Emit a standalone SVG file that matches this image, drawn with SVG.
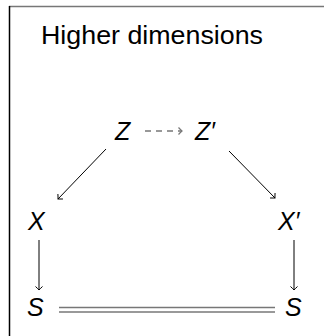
<svg xmlns="http://www.w3.org/2000/svg" width="324" height="336" viewBox="0 0 324 336">
<style>
.t{font-family:"Liberation Sans",Arial,sans-serif;fill:#000}
.m{font-family:"Liberation Sans",Arial,sans-serif;font-style:italic;font-size:25px;fill:#000}
.a{stroke:#000;stroke-width:1;fill:none}
.g{stroke:#777;stroke-width:1.5;fill:none}
</style>
<defs>
<marker id="hk" viewBox="-5 -5 6 10" markerWidth="6" markerHeight="10" refX="0" refY="0" orient="auto" markerUnits="userSpaceOnUse">
<path d="M-3.5,-3.5 Q-1,-0.8 0,0 Q-1,0.8 -3.5,3.5" stroke="#000" stroke-width="1" fill="none"/>
</marker>
<marker id="hkg" viewBox="-5 -5 6 10" markerWidth="6" markerHeight="10" refX="0" refY="0" orient="auto" markerUnits="userSpaceOnUse">
<path d="M-3.5,-3.5 Q-1,-0.8 0,0 Q-1,0.8 -3.5,3.5" stroke="#777" stroke-width="1.2" fill="none"/>
</marker>
</defs>
<rect width="324" height="336" fill="#fff"/>
<line x1="9" y1="6.5" x2="324" y2="6.5" stroke="#777" stroke-width="1.5"/>
<line x1="9.5" y1="6" x2="9.5" y2="336" stroke="#000" stroke-width="1.5"/>
<text class="t" x="41" y="44" font-size="25" textLength="222" lengthAdjust="spacingAndGlyphs">Higher dimensions</text>
<g id="connectors">
<line class="g" x1="145" y1="131" x2="182" y2="131" stroke-dasharray="6,5" marker-end="url(#hkg)"/>
<line class="a" x1="106" y1="149" x2="58" y2="199" marker-end="url(#hk)"/>
<line class="a" x1="229" y1="151" x2="275" y2="198" marker-end="url(#hk)"/>
<line class="a" x1="39" y1="240" x2="39" y2="290" marker-end="url(#hk)"/>
<line class="a" x1="294" y1="240" x2="294" y2="290" marker-end="url(#hk)"/>
<line class="g" x1="59" y1="307.5" x2="275" y2="307.5"/>
<line class="g" x1="59" y1="312" x2="275" y2="312"/>
</g>
<g id="Z"><text class="m" x="115" y="140">Z</text></g>
<g id="Zp"><text class="m" x="195" y="140">Z′</text></g>
<g id="X"><text class="m" x="28" y="230">X</text></g>
<g id="Xp"><text class="m" x="278" y="230">X′</text></g>
<g id="S1"><text class="m" x="27" y="316">S</text></g>
<g id="S2"><text class="m" x="285" y="316">S</text></g>
</svg>
